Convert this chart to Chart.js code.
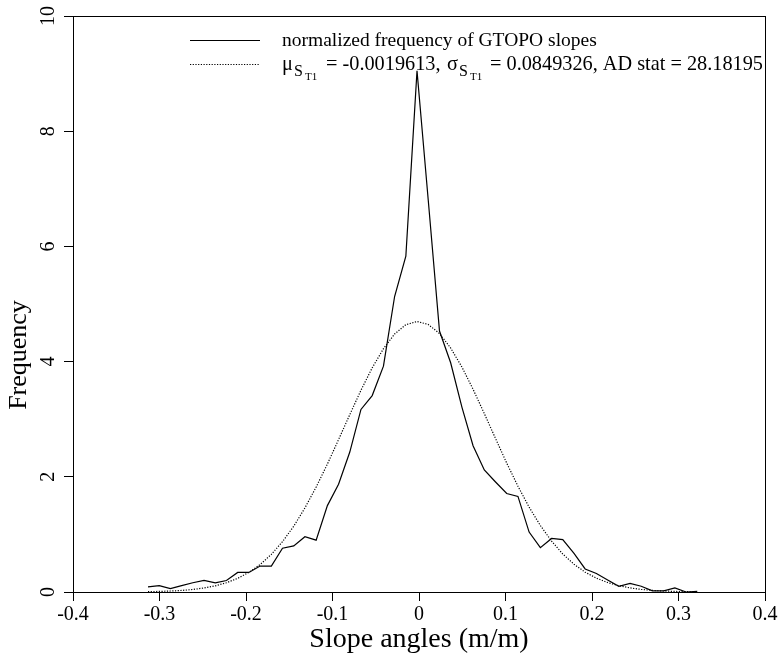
<!DOCTYPE html>
<html>
<head>
<meta charset="utf-8">
<script src="https://cdn.jsdelivr.net/npm/chart.js@4.4.1/dist/chart.umd.min.js"></script>
<style>
html,body{margin:0;padding:0;background:#fff;}
#wrap{width:781px;height:659px;position:relative;}
</style>
</head>
<body>
<div id="wrap"><canvas id="c" width="781" height="659"></canvas></div>
<script>
// bin centres (slope angle, m/m)
const slopeBins = [-0.3133,-0.3003,-0.2874,-0.2744,-0.2615,-0.2485,-0.2355,-0.2226,-0.2096,-0.1967,
  -0.1837,-0.1707,-0.1578,-0.1448,-0.1319,-0.1189,-0.1059,-0.0930,-0.0800,-0.0671,
  -0.0541,-0.0411,-0.0282,-0.0152,-0.0023,0.0107,0.0237,0.0366,0.0496,0.0625,
  0.0755,0.0885,0.1014,0.1144,0.1273,0.1403,0.1533,0.1662,0.1792,0.1921,
  0.2051,0.2181,0.2310,0.2440,0.2569,0.2699,0.2829,0.2958,0.3088,0.3217];
// normalized frequency of GTOPO slopes
const gtopoFreq = [0.09,0.11,0.06,0.11,0.16,0.20,0.16,0.20,0.34,0.34,
  0.45,0.45,0.76,0.80,0.96,0.90,1.50,1.87,2.43,3.17,
  3.41,3.92,5.13,5.83,9.05,6.80,4.53,3.98,3.21,2.54,
  2.12,1.91,1.71,1.66,1.04,0.77,0.93,0.91,0.67,0.40,
  0.32,0.21,0.10,0.15,0.10,0.02,0.02,0.07,0.00,0.01];
// fitted normal curve (dotted)
const fittedFreq = [0.006,0.010,0.017,0.027,0.044,0.070,0.107,0.161,0.237,0.340,
  0.476,0.653,0.874,1.142,1.459,1.822,2.221,2.646,3.080,3.503,
  3.892,4.224,4.479,4.641,4.697,4.645,4.488,4.236,3.906,3.520,
  3.098,2.664,2.238,1.837,1.473,1.154,0.883,0.660,0.482,0.344,
  0.240,0.164,0.109,0.071,0.045,0.028,0.017,0.010,0.006,0.003];
const xTicks = [-0.4,-0.3,-0.2,-0.1,0,0.1,0.2,0.3,0.4];
const yTicks = [0,2,4,6,8,10];
const xTitle = "Slope angles (m/m)";
const yTitle = "Frequency";
const legendLine1 = "normalized frequency of GTOPO slopes";

const SERIF = '"Liberation Serif", "Times New Roman", serif';

const pts = (xs, ys) => xs.map((x, i) => ({x: x, y: ys[i]}));

const decor = {
  id: 'decor',
  afterDraw(chart) {
    const ctx = chart.ctx;
    const a = chart.chartArea;
    const ys = chart.scales.y;
    ctx.save();
    // box
    ctx.strokeStyle = '#000';
    ctx.lineWidth = 1;
    ctx.strokeRect(Math.round(a.left) + 0.5, Math.round(a.top) + 0.5,
                   Math.round(a.right - a.left), Math.round(a.bottom - a.top));
    // rotated y tick labels
    ctx.fillStyle = '#000';
    ctx.font = '20px ' + SERIF;
    ctx.textAlign = 'center';
    ctx.textBaseline = 'middle';
    yTicks.forEach(v => {
      const y = ys.getPixelForValue(v);
      ctx.save();
      ctx.translate(49, y);
      ctx.rotate(-Math.PI / 2);
      ctx.fillText(String(v), 0, 0);
      ctx.restore();
    });
    // y title
    ctx.save();
    ctx.font = '26px ' + SERIF;
    ctx.translate(19, 355);
    ctx.rotate(-Math.PI / 2);
    ctx.fillText(yTitle, 0, 0);
    ctx.restore();
    // x title
    ctx.font = '28px ' + SERIF;
    ctx.fillText(xTitle, (a.left + a.right) / 2, 640);
    // legend
    const lx0 = 190, lx1 = 260, tx = 282, ly1 = 40, ly2 = 64;
    ctx.lineWidth = 1.2;
    ctx.setLineDash([]);
    ctx.beginPath(); ctx.moveTo(lx0, ly1 + 0.5); ctx.lineTo(lx1, ly1 + 0.5); ctx.stroke();
    ctx.lineWidth = 1.2;
    ctx.setLineDash([1.2, 1.5]);
    ctx.beginPath(); ctx.moveTo(lx0, ly2 + 0.5); ctx.lineTo(lx1, ly2 + 0.5); ctx.stroke();
    ctx.setLineDash([]);
    ctx.textAlign = 'left';
    ctx.textBaseline = 'alphabetic';
    const base1 = ly1 + 6, base2 = ly2 + 6;
    ctx.font = '19.5px ' + SERIF;
    ctx.fillText(legendLine1, tx, base1);
    // second line with subscripts (x positions)
    const parts = [
      {t: 'μ', f: 20.3, dy: 0, x: 282},
      {t: 'S', f: 16, dy: 6, x: 294},
      {t: 'T1', f: 11, dy: 10, x: 305},
      {t: '= -0.0019613,', f: 20.3, dy: 0, x: 326},
      {t: 'σ', f: 20.3, dy: 0, x: 447},
      {t: 'S', f: 16, dy: 6, x: 459},
      {t: 'T1', f: 11, dy: 10, x: 470},
      {t: '= 0.0849326, AD stat = 28.18195', f: 20.3, dy: 0, x: 490}
    ];
    parts.forEach(p => {
      ctx.font = p.f + 'px ' + SERIF;
      ctx.fillText(p.t, p.x, base2 + p.dy);
    });
    ctx.restore();
  }
};

new Chart(document.getElementById('c'), {
  type: 'scatter',
  data: {
    datasets: [
      {
        label: legendLine1,
        data: pts(slopeBins, gtopoFreq),
        showLine: true,
        borderColor: '#000',
        borderWidth: 1.2,
        pointRadius: 0,
        fill: false,
        tension: 0
      },
      {
        label: 'fit',
        data: pts(slopeBins, fittedFreq),
        showLine: true,
        borderColor: '#000',
        borderWidth: 1.2,
        borderDash: [1.2, 1.5],
        pointRadius: 0,
        fill: false,
        tension: 0
      }
    ]
  },
  options: {
    responsive: false,
    animation: false,
    devicePixelRatio: 1,
    layout: {padding: {top: 16, right: 16, left: 0, bottom: 0}},
    plugins: {legend: {display: false}, tooltip: {enabled: false}, title: {display: false}},
    scales: {
      x: {
        type: 'linear',
        min: -0.4, max: 0.4,
        afterBuildTicks: s => { s.ticks = xTicks.map(v => ({value: v})); },
        afterFit: s => { s.height = 67; },
        ticks: {
          color: '#000',
          font: {family: SERIF, size: 20},
          padding: 2,
          maxRotation: 0,
          autoSkip: false,
          callback: v => String(Math.round(v * 10) / 10)
        },
        grid: {drawOnChartArea: false, drawTicks: true, tickLength: 9, color: '#000', lineWidth: 1},
        border: {display: true, color: '#000', width: 1}
      },
      y: {
        type: 'linear',
        min: 0, max: 10,
        afterBuildTicks: s => { s.ticks = yTicks.map(v => ({value: v})); },
        afterFit: s => { s.width = 73; },
        ticks: {display: false},
        grid: {drawOnChartArea: false, drawTicks: true, tickLength: 9, color: '#000', lineWidth: 1},
        border: {display: true, color: '#000', width: 1}
      }
    }
  },
  plugins: [decor]
});
</script>
</body>
</html>
